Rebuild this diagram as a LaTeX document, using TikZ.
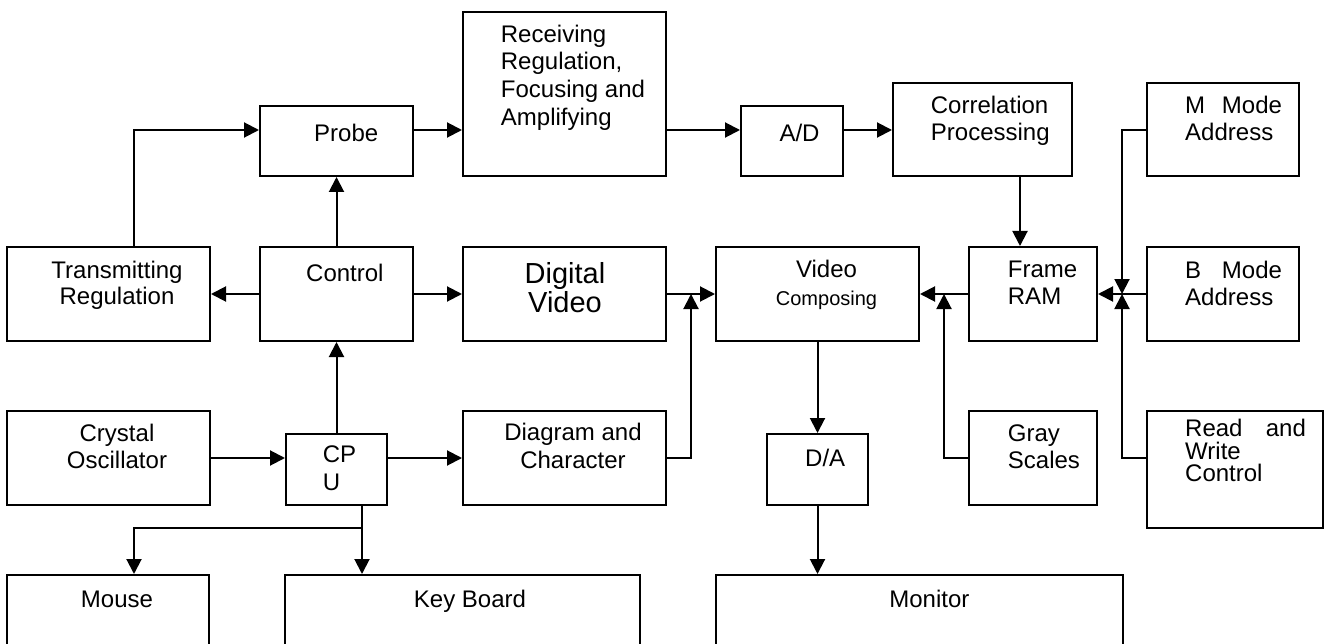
\documentclass[tikz,border=0pt]{standalone}
\usepackage{fontspec}
\setmainfont{Liberation Sans}
\usetikzlibrary{arrows.meta}
\tikzset{
  blk/.style={draw, line width=2pt, inner sep=0pt},
  lbl/.style={inner sep=0pt, font=\fontsize{24}{27.5}\selectfont, execute at begin node=\strut},
  arr/.style={line width=2pt, -{Triangle[length=15pt,width=15pt]}},
}
\begin{document}
\begin{tikzpicture}[x=1pt,y=-1pt]
    \clip (0,0) rectangle (1324,644);
    % blocks: name / left / top / right / bottom
    \foreach \name/\xa/\ya/\xb/\yb in {
        trans/7/247/210/341, probe/260/106/413/176, recv/463/12/666/176,
        ad/741/106/843/176, corr/893/83/1072/176, mmode/1147/83/1299/176,
        ctrl/260/247/413/341, dvid/463/247/666/341, vcomp/716/247/919/341,
        fram/969/247/1097/341, bmode/1147/247/1299/341,
        cryst/7/411/210/505, cpu/286/434/387/505, diag/463/411/666/505,
        da/767/434/868/505, gray/969/411/1097/505, rw/1147/411/1322.5/528,
        mouse/7/575/209/700, kbd/285/575/640/700, mon/716/575/1123/700}
        \node[blk, minimum width={\xb-\xa}, minimum height={\yb-\ya}] (\name) at ({(\xa+\xb)/2},{(\ya+\yb)/2}) {};
    % labels
    \node[lbl, anchor=north west] (probe-t) at (314,122.5) {Probe};
    \node[lbl, anchor=north west, align=left, font=\fontsize{24}{27.8}\selectfont] (recv-t) at (500.7,24.5) {Receiving\\Regulation,\\Focusing and\\Amplifying};
    \node[lbl, anchor=north west] (ad-t) at (779.3,122.5) {A/D};
    \node[lbl, anchor=north west, align=left] (corr-t) at (930.7,95.75) {Correlation\\Processing};
    \node[lbl, anchor=north west, align=left] (mmode-t) at (1185,95.75) {\makebox[36.7pt][l]{M}Mode\\Address};
    \node[lbl, anchor=north, align=center, font=\fontsize{24}{26.7}\selectfont] (trans-t) at (117,260.6) {Transmitting\\Regulation};
    \node[lbl, anchor=north west] (ctrl-t) at (306,261.75) {Control};
    \node[lbl, anchor=north, align=center, font=\fontsize{29}{28.4}\selectfont] (dvid-t) at (565,262.4) {Digital\\Video};
    \node[lbl, anchor=north, align=center] (vcomp-t) at (826.5,259.75) {Video\\[1pt]{\fontsize{20}{24}\selectfont Composing}};
    \node[lbl, anchor=north west, align=left] (fram-t) at (1007.7,260.75) {Frame\\RAM};
    \node[lbl, anchor=north west, align=left] (bmode-t) at (1185,260.75) {\makebox[36.7pt][l]{B}Mode\\Address};
    \node[lbl, anchor=north, align=center, font=\fontsize{24}{27.4}\selectfont] (cryst-t) at (117,424) {Crystal\\Oscillator};
    \node[lbl, anchor=north west, align=left, font=\fontsize{24}{28.3}\selectfont] (cpu-t) at (322.7,445.2) {CP\\U};
    \node[lbl, anchor=north, align=center, font=\fontsize{24}{28}\selectfont] (diag-t) at (573,423.1) {Diagram and\\Character};
    \node[lbl, anchor=north west] (da-t) at (805,447.4) {D/A};
    \node[lbl, anchor=north west, align=left] (gray-t) at (1007.7,424.4) {Gray\\Scales};
    \node[lbl, anchor=north west, align=left] (rw-t) at (1185,419) {\makebox[80.7pt][l]{Read}and\\[-5pt]Write\\[-5pt]Control};
    \node[lbl, anchor=north] (mouse-t) at (117,588) {Mouse};
    \node[lbl, anchor=north] (kbd-t) at (470,588) {Key Board};
    \node[lbl, anchor=north] (mon-t) at (929.4,588) {Monitor};
    % helper coordinates for the bent lines
    \coordinate (rowA) at (0,130);
    \coordinate (tx) at (134,0);
    \coordinate (kx) at (362,0);
    \coordinate (dx) at (691,0);
    \coordinate (gx) at (944,0);
    \coordinate (cx) at (1020,0);
    \coordinate (mx) at (1122,0);
    \coordinate (bus) at (362,528);
    % top row
    \draw[arr] (trans.north -| tx) |- (probe.west |- rowA);
    \draw[arr] (probe.east |- rowA) -- (recv.west |- rowA);
    \draw[arr] (recv.east |- rowA) -- (ad.west |- rowA);
    \draw[arr] (ad.east |- rowA) -- (corr.west |- rowA);
    % middle row
    \draw[arr] (ctrl.north) -- (probe.south);
    \draw[arr] (ctrl.west) -- (trans.east);
    \draw[arr] (ctrl.east) -- (dvid.west);
    \draw[arr] (dvid.east) -- (vcomp.west);
    \draw[arr] (diag.east) -| (vcomp.west -| dx);
    \draw[arr] (fram.west) -- (vcomp.east);
    \draw[arr] (gray.west) -| (fram.west -| gx);
    \draw[arr] (corr.south -| cx) -- (fram.north -| cx);
    \draw[arr] (mmode.west |- rowA) -| (fram.east -| mx);
    \draw[arr] (bmode.west) -- (fram.east);
    \draw[arr] (rw.west |- gray.west) -| (fram.east -| mx);
    % lower rows
    \draw[arr] (cpu.north) -- (ctrl.south);
    \draw[arr] (cryst.east) -- (cryst.east -| cpu.west);
    \draw[arr] (cryst.east -| cpu.east) -- (diag.west);
    \draw[line width=2pt] (cpu.south -| kx) -- (bus);
    \draw[arr] (bus) -- (kbd.north -| kx);
    \draw[arr] (bus) -| (mouse.north -| tx);
    \draw[arr] (vcomp.south) -- (da.north);
    \draw[arr] (da.south) -- (mon.north -| da.south);
\end{tikzpicture}
\end{document}
